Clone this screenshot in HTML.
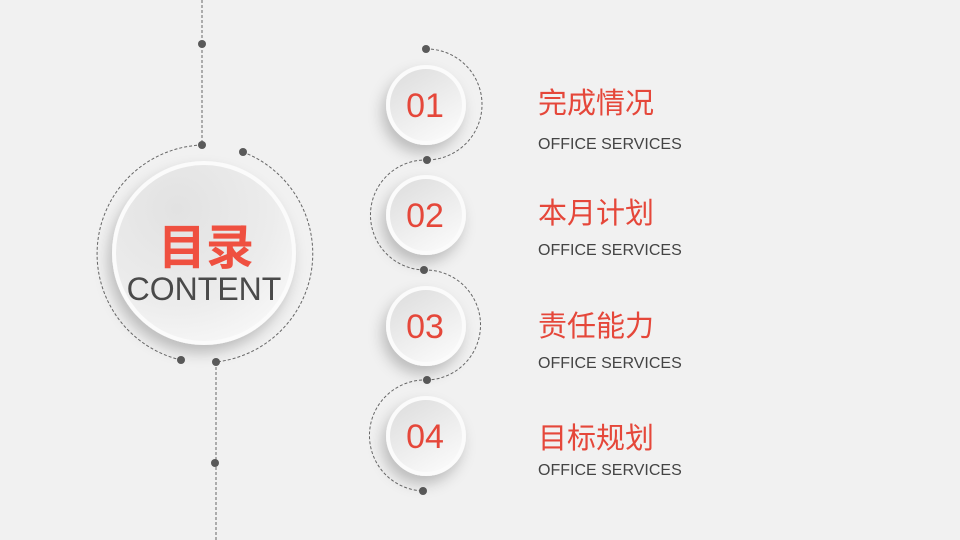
<!DOCTYPE html>
<html><head><meta charset="utf-8"><style>
body{margin:0;width:960px;height:540px;background:#f1f1f1;overflow:hidden}
svg{display:block}
.t{font-family:"Liberation Sans","Noto Sans CJK SC",sans-serif}
</style></head><body>
<svg width="960" height="540" viewBox="0 0 960 540">
<defs>
<radialGradient id="g" cx="0.35" cy="0.25" r="0.9">
<stop offset="0" stop-color="#e2e2e2"/><stop offset="0.6" stop-color="#ececec"/><stop offset="1" stop-color="#fafafa"/>
</radialGradient>
<linearGradient id="g2" x1="0" y1="0" x2="0.6" y2="1">
<stop offset="0" stop-color="#dcdcdc"/><stop offset="1" stop-color="#f8f8f8"/>
</linearGradient>
<filter id="sh" x="-40%" y="-40%" width="180%" height="180%"><feDropShadow dx="-4" dy="8" stdDeviation="7" flood-color="#000" flood-opacity="0.22"/></filter>
</defs>
<g fill="none" stroke="#666" stroke-width="1" stroke-dasharray="3,2">
<line x1="202" y1="0" x2="202" y2="145"/>
<line x1="216" y1="362" x2="216" y2="540"/>
<path d="M202 145 A109 109 0 0 0 181 360"/>
<path d="M243 152 A109 109 0 0 1 216 362"/>
<path d="M426 49 A55.5 55.5 0 0 1 427 160"/>
<path d="M427 160 A55 55 0 0 0 424 270"/>
<path d="M424 270 A55 55 0 0 1 427 380"/>
<path d="M427 380 A55.5 55.5 0 0 0 423 491"/>
</g>
<g fill="#5a5a5a">
<circle cx="202" cy="44" r="4"/><circle cx="202" cy="145" r="4"/>
<circle cx="243" cy="152" r="4"/><circle cx="181" cy="360" r="4"/>
<circle cx="216" cy="362" r="4"/><circle cx="215" cy="463" r="4"/>
<circle cx="426" cy="49" r="4"/><circle cx="427" cy="160" r="4"/>
<circle cx="424" cy="270" r="4"/><circle cx="427" cy="380" r="4"/>
<circle cx="423" cy="491" r="4"/>
</g>
<circle cx="204" cy="253" r="92" fill="#fbfbfb" filter="url(#sh)"/>
<circle cx="204" cy="253" r="88" fill="url(#g)"/>
<text x="206" y="264" text-anchor="middle" class="t" font-size="48" font-weight="bold" fill="#ef5040">目录</text>
<text x="204" y="300" text-anchor="middle" class="t" font-size="32" fill="#4a4a4a">CONTENT</text>
<g class="t" font-size="34" fill="#e5473a" text-anchor="middle">
<circle cx="426" cy="105" r="40" fill="#fbfbfb" filter="url(#sh)"/><circle cx="426" cy="105" r="36" fill="url(#g2)"/><text x="425" y="117">01</text>
<circle cx="426" cy="215" r="40" fill="#fbfbfb" filter="url(#sh)"/><circle cx="426" cy="215" r="36" fill="url(#g2)"/><text x="425" y="227">02</text>
<circle cx="426" cy="326" r="40" fill="#fbfbfb" filter="url(#sh)"/><circle cx="426" cy="326" r="36" fill="url(#g2)"/><text x="425" y="338">03</text>
<circle cx="426" cy="436" r="40" fill="#fbfbfb" filter="url(#sh)"/><circle cx="426" cy="436" r="36" fill="url(#g2)"/><text x="425" y="448">04</text>
</g>
<g class="t" font-size="29" fill="#e5473a">
<text x="538" y="113">完成情况</text>
<text x="538" y="223">本月计划</text>
<text x="538" y="336">责任能力</text>
<text x="538" y="448">目标规划</text>
</g>
<g class="t" font-size="16" fill="#444">
<text x="538" y="149">OFFICE SERVICES</text>
<text x="538" y="255">OFFICE SERVICES</text>
<text x="538" y="368">OFFICE SERVICES</text>
<text x="538" y="475">OFFICE SERVICES</text>
</g>
</svg>
</body></html>
